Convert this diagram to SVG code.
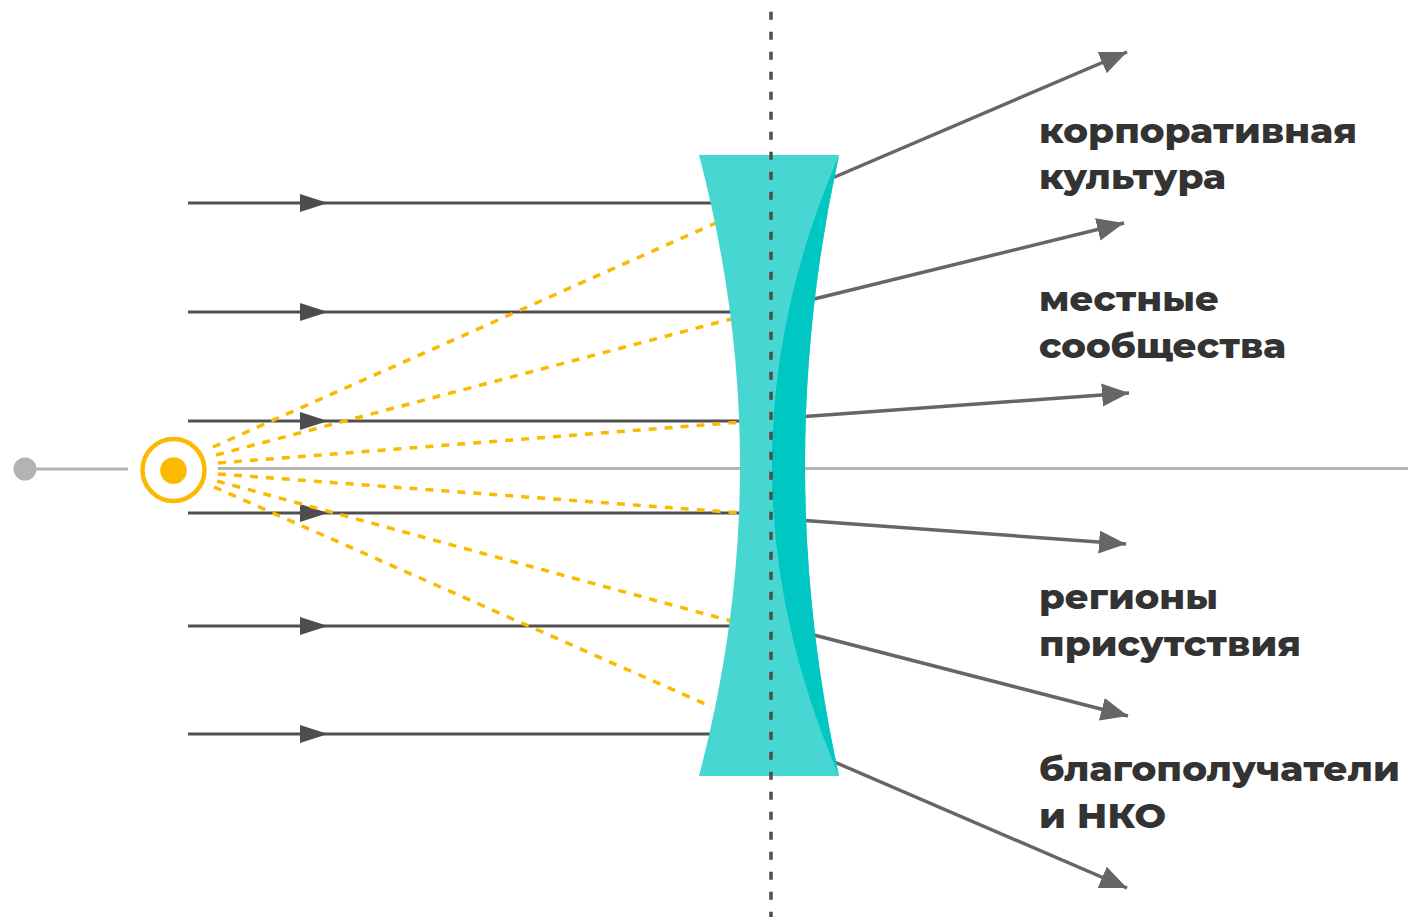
<svg xmlns="http://www.w3.org/2000/svg" width="1408" height="917" viewBox="0 0 1408 917">
<style>
.axis{stroke:#b3b3b3;stroke-width:3;fill:none}
.ray{stroke:#505050;stroke-width:3;fill:none}
.head{fill:#4d4d4d}
.beam{stroke:#fbba00;stroke-width:3.5;stroke-dasharray:8 8;fill:none}
.out{stroke:#666666;stroke-width:3.5;fill:none;marker-end:url(#arr)}
.lbl{font-family:"Montserrat","Inter","Open Sans","DejaVu Sans",sans-serif;font-weight:800;font-size:35px;fill:#333333}
</style>
<defs>
<marker id="arr" markerUnits="userSpaceOnUse" markerWidth="28" markerHeight="24" refX="27" refY="11.5" orient="auto">
<path d="M0,0 L27,11.5 L0,23 Z" fill="#666666"/>
</marker>
</defs>
<g id="axis">
<line class="axis" x1="36" y1="469" x2="128" y2="469"/>
<circle cx="25" cy="469" r="11.5" fill="#b3b3b3"/>
<line class="axis" x1="218" y1="468.5" x2="1408" y2="468.5"/>
</g>
<g id="connectors">
<g id="input-rays">
<line class="ray" x1="188" y1="203" x2="720" y2="203"/>
<line class="ray" x1="188" y1="312" x2="738" y2="312"/>
<line class="ray" x1="188" y1="421" x2="745" y2="421"/>
<line class="ray" x1="188" y1="513" x2="745" y2="513"/>
<line class="ray" x1="188" y1="626" x2="738" y2="626"/>
<line class="ray" x1="188" y1="734" x2="718" y2="734"/>
<polygon class="head" points="300,194 328,203 300,212"/>
<polygon class="head" points="300,303 328,312 300,321"/>
<polygon class="head" points="300,412 328,421 300,430"/>
<polygon class="head" points="300,504 328,513 300,522"/>
<polygon class="head" points="300,617 328,626 300,635"/>
<polygon class="head" points="300,725 328,734 300,743"/>
</g>
<g id="beams">
<line class="beam" x1="213" y1="447" x2="718" y2="222"/>
<line class="beam" x1="216" y1="455" x2="731" y2="319"/>
<line class="beam" x1="218" y1="463" x2="742" y2="422"/>
<line class="beam" x1="218" y1="474" x2="742" y2="513"/>
<line class="beam" x1="217" y1="481" x2="731" y2="621"/>
<line class="beam" x1="214" y1="487" x2="712" y2="707"/>
</g>
<g id="output-rays">
<line class="out" x1="830" y1="179" x2="1127" y2="52"/>
<line class="out" x1="810" y1="300" x2="1124" y2="223"/>
<line class="out" x1="798" y1="417" x2="1129" y2="393"/>
<line class="out" x1="798" y1="520" x2="1126" y2="544"/>
<line class="out" x1="810" y1="634" x2="1128" y2="716"/>
<line class="out" x1="832" y1="761" x2="1127" y2="888"/>
</g>
</g>
<g id="lens">
<path d="M699,155 L839,155 Q771,465.5 839,776 L699,776 Q781,465.5 699,155 Z" fill="#48d6d3"/>
<path d="M839,155 Q705,465.5 839,776 Q771,465.5 839,155 Z" fill="#00c7c2"/>
</g>
<g id="optical-axis">
<line x1="771" y1="11.7" x2="771" y2="917" stroke="#4d4d4d" stroke-width="3.5" stroke-dasharray="8 12"/>
</g>
<g id="source">
<circle cx="173.5" cy="470" r="31" fill="none" stroke="#fbba00" stroke-width="4.5"/>
<circle cx="173.5" cy="470.5" r="13.3" fill="#fbba00"/>
</g>
<g id="label-culture">
<text class="lbl" x="1039" y="143" textLength="318" lengthAdjust="spacingAndGlyphs">корпоративная</text>
<text class="lbl" x="1039" y="189" textLength="187" lengthAdjust="spacingAndGlyphs">культура</text>
</g>
<g id="label-communities">
<text class="lbl" x="1039" y="311" textLength="180" lengthAdjust="spacingAndGlyphs">местные</text>
<text class="lbl" x="1039" y="358" textLength="247" lengthAdjust="spacingAndGlyphs">сообщества</text>
</g>
<g id="label-regions">
<text class="lbl" x="1039" y="609" textLength="179" lengthAdjust="spacingAndGlyphs">регионы</text>
<text class="lbl" x="1039" y="656" textLength="262" lengthAdjust="spacingAndGlyphs">присутствия</text>
</g>
<g id="label-beneficiaries">
<text class="lbl" x="1039" y="781" textLength="361" lengthAdjust="spacingAndGlyphs">благополучатели</text>
<text class="lbl" x="1039" y="828" textLength="127" lengthAdjust="spacingAndGlyphs">и НКО</text>
</g>
</svg>
